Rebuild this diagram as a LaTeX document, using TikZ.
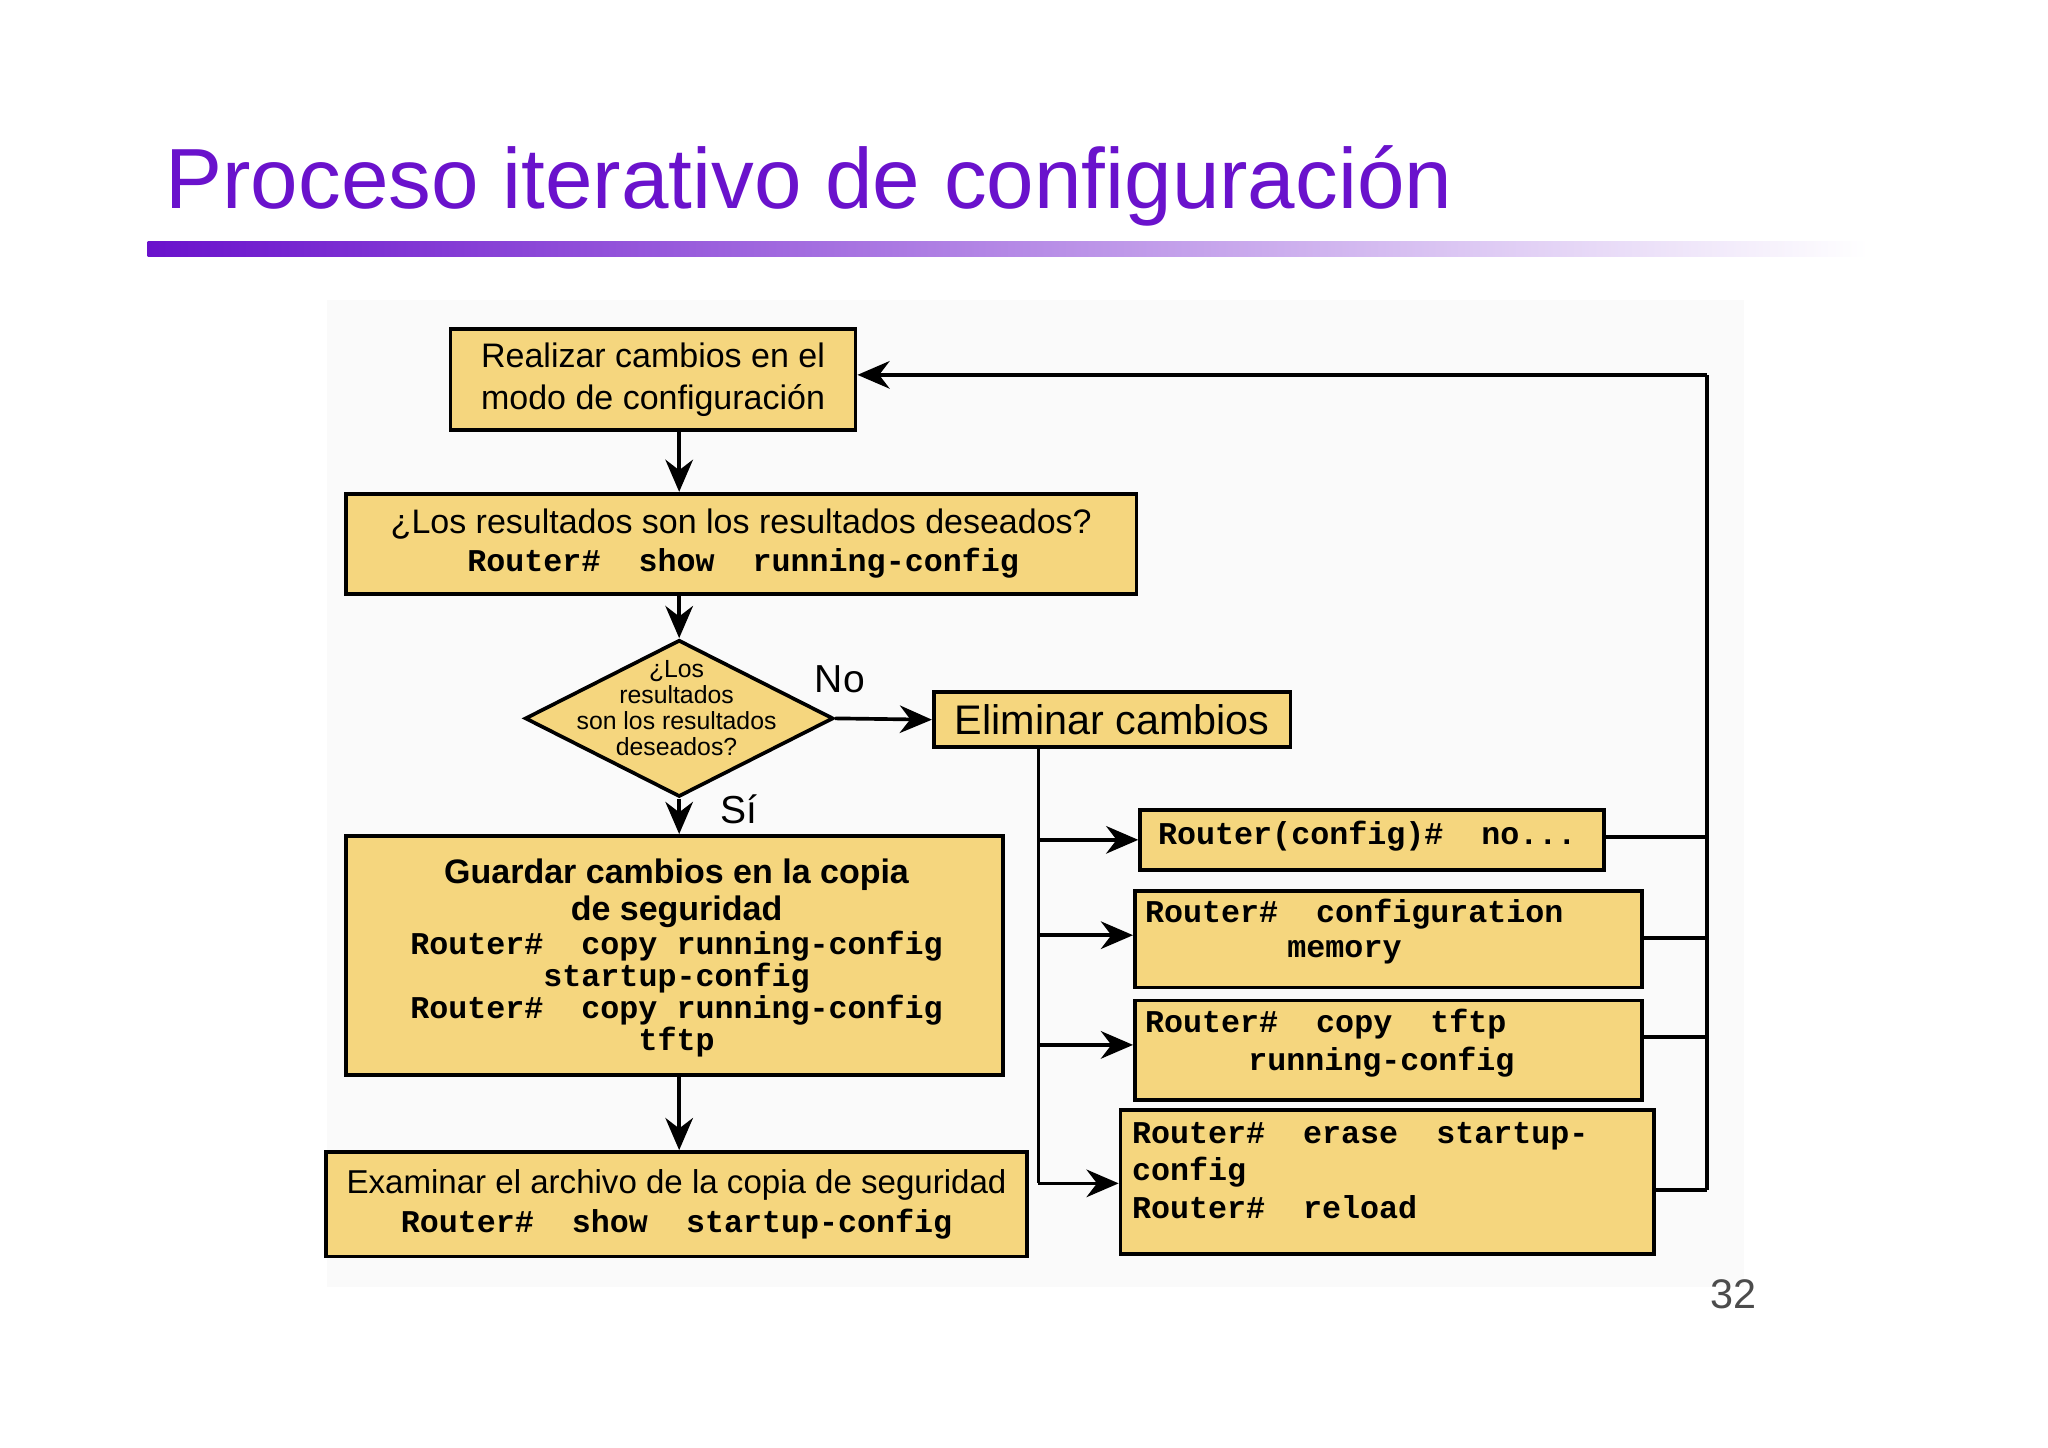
\documentclass[tikz,border=0pt]{standalone}
\usepackage{fontspec}
\setmainfont{Liberation Sans}
\newfontfamily\monob{Liberation Mono}
\usetikzlibrary{shapes.geometric,arrows.meta}
\definecolor{boxfill}{HTML}{F5D67E}
\definecolor{titlec}{HTML}{6A12CC}
\tikzset{
 box/.style={draw=black, line width=0.8pt, fill=boxfill, inner sep=0pt},
 t/.style={font=\fontsize{7.4}{9.2}\selectfont, align=center, inner sep=0pt},
 m/.style={font=\monob\bfseries\fontsize{6.9}{8.6}\selectfont, inner sep=0pt},
 ar/.style={-{Stealth[length=7pt,width=6pt]}, line width=0.8pt},
 ln/.style={line width=0.8pt}
}
\begin{document}
\begin{tikzpicture}[x=0.01cm,y=-0.01cm]
\useasboundingbox (0,0) rectangle (1568,1108);
\fill[white] (0,0) rectangle (1568,1108);
\fill[black!2] (250,230) rectangle (1335,985);
\node[anchor=base west, inner sep=0pt, text=titlec, font=\fontsize{18.6}{22}\selectfont] (title) at (126,160) {Proceso iterativo de configuración};
\shade[left color=titlec, right color=white] (113,185) rectangle (1430,196);

\node[box, minimum width=3.10cm, minimum height=0.77cm] (b1) at (500,290.5) {};
\node[t] (b1t) at (b1) {Realizar cambios en el\\modo de configuración};

\node[box, minimum width=6.05cm, minimum height=0.77cm] (b2) at (567.5,416.5) {};
\node[t] (b2t) at (567.5,401) {¿Los resultados son los resultados deseados?};
\node[m] (b2m) at (569,431) {Router\#\ \ show\ \ running-config};

\node[box, diamond, minimum width=2.36cm, minimum height=1.20cm, inner sep=0pt] (d) at (520,550) {};
\node[t, font=\fontsize{5.4}{5.7}\selectfont] (dt) at (518,542) {¿Los\\resultados\\son los resultados\\deseados?};
\node[t, font=\fontsize{8.5}{10}\selectfont] (no) at (643,520) {No};
\node[t, font=\fontsize{8.5}{10}\selectfont] (si) at (566,620) {Sí};

\node[box, minimum width=2.73cm, minimum height=0.42cm] (el) at (851.5,551) {};
\node[t, font=\fontsize{9}{11}\selectfont] (elt) at (el) {Eliminar cambios};

\node[box, minimum width=5.03cm, minimum height=1.83cm] (g) at (516.5,731.5) {};
\node[t, font=\bfseries\fontsize{7.4}{8}\selectfont] (gt) at (518,684) {Guardar cambios en la copia\\de seguridad};
\node[m, align=center, font=\monob\bfseries\fontsize{6.9}{7}\selectfont] (gm) at (518,761) {Router\#\ \ copy running-config\\startup-config\\Router\#\ \ copy running-config\\tftp};

\node[box, minimum width=5.36cm, minimum height=0.80cm] (ex) at (518,922) {};
\node[t, font=\fontsize{7.2}{9}\selectfont] (ext) at (518,907) {Examinar el archivo de la copia de seguridad};
\node[m] (exm) at (518,937) {Router\#\ \ show\ \ startup-config};

\node[box, minimum width=3.55cm, minimum height=0.46cm] (r1) at (1050.5,643) {};
\node[m, anchor=west] (r1t) at (886,640) {Router(config)\#\ \ no...};
\node[box, minimum width=3.88cm, minimum height=0.74cm] (r2) at (1063,719) {};
\node[m, anchor=west] (r2a) at (876,700) {Router\#\ \ configuration};
\node[m, anchor=west] (r2b) at (985,729) {memory};
\node[box, minimum width=3.88cm, minimum height=0.76cm] (r3) at (1063,804) {};
\node[m, anchor=west] (r3a) at (876,784) {Router\#\ \ copy\ \ tftp};
\node[m, anchor=west] (r3b) at (955,813) {running-config};
\node[box, minimum width=4.08cm, minimum height=1.10cm] (r4) at (1062,905) {};
\node[m, anchor=west, align=left, font=\monob\bfseries\fontsize{6.9}{8.2}\selectfont] (r4t) at (866,896) {Router\#\ \ erase\ \ startup-\\config\\Router\#\ \ reload};

\node[inner sep=0pt, font=\fontsize{9}{10}\selectfont, text=black!70] (pg) at (1327,991) {32};

% main flow
\coordinate (c1) at (520,329);
\draw[ar] (c1) -- (c1 |- b2.north);
\draw[ar] (d.north |- b2.south) -- (d.north);
\draw[ar] (d.south) -- (g.north -| d.south);
\draw[ar] (d.east) -- (el.west);
\draw[ar] (g.south -| 520,0) -- (ex.north -| 520,0);

% right branch
\coordinate (v0) at (795,572);
\coordinate (v1) at (795,643);
\coordinate (v2) at (795,716);
\coordinate (v3) at (795,800);
\coordinate (v4) at (795,906);
\draw[ln] (v0) -- (v4);
\draw[ar] (v1) -- (v1 -| r1.west);
\draw[ar] (v2) -- (v2 -| r2.west);
\draw[ar] (v3) -- (v3 -| r3.west);
\draw[ar] (v4) -- (v4 -| r4.west);

% loop back
\coordinate (lt) at (1307,287);
\coordinate (lb) at (1307,911);
\draw[ln] (lb) -- (lt);
\draw[ln] (r1.east |- 0,641) -- (1307,641);
\draw[ln] (r2.east |- 0,718) -- (1307,718);
\draw[ln] (r3.east |- 0,794) -- (1307,794);
\draw[ln] (r4.east |- lb) -- (lb);
\draw[ar] (lt) -- (lt -| b1.east);
\end{tikzpicture}
\end{document}
